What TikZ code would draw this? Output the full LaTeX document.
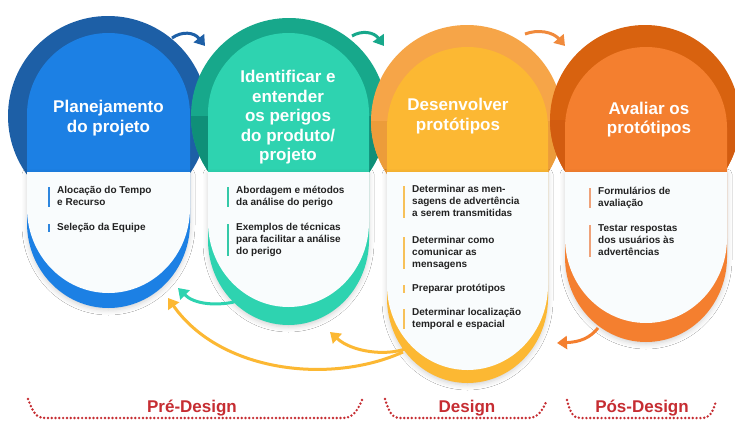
\documentclass[tikz,border=0pt]{standalone}
\usepackage{fontspec}
\setmainfont{Liberation Sans}
\usetikzlibrary{arrows.meta,shadows.blur}
\definecolor{bluedark}{HTML}{1D5FA6}
\definecolor{bluemain}{HTML}{1C80E4}
\definecolor{bluebar}{HTML}{2E86DE}
\definecolor{tealdark}{HTML}{17A88B}
\definecolor{tealshade}{HTML}{0F8F78}
\definecolor{tealmain}{HTML}{2ED3B0}
\definecolor{tealbar}{HTML}{35C9A8}
\definecolor{yelring}{HTML}{F6A548}
\definecolor{yelshade}{HTML}{EC9C3A}
\definecolor{yelmain}{HTML}{FCB833}
\definecolor{yelbar}{HTML}{F7C159}
\definecolor{orgdark}{HTML}{D8620F}
\definecolor{orgshade}{HTML}{D25C10}
\definecolor{orgmain}{HTML}{F47F2F}
\definecolor{orgbar}{HTML}{EFA27A}
\definecolor{orgarrow}{HTML}{F08A3C}
\definecolor{bodywhite}{HTML}{F9FCFD}
\definecolor{txt}{HTML}{222222}
\definecolor{redlab}{HTML}{C62D32}
\tikzset{
  ttl/.style={font=\bfseries\fontsize{17}{19.5}\selectfont, text=white, align=center, inner sep=0pt},
  itm/.style={font=\bfseries\fontsize{10}{12}\selectfont, text=txt, align=left, anchor=north west, inner sep=0pt},
  arr/.style={line width=3pt, -{Triangle[length=10pt,width=13pt]}},
  brk/.style={draw=redlab, line width=2.7pt, dash pattern=on 0pt off 3.8pt, line cap=round},
  phase/.style={font=\bfseries\fontsize{17}{20}\selectfont, text=redlab, inner sep=0pt},
  bar/.style={line width=2.2pt},
  shd/.style={blur shadow={shadow xshift=0pt, shadow yshift=-2pt, shadow blur radius=5pt, shadow opacity=18}}
}
\begin{document}
\begin{tikzpicture}[x=1pt,y=-1pt]
\useasboundingbox[fill=white] (0,0) rectangle (735,423);

% ---------- Stage 1 ----------
\fill[bluedark] (108,116) circle[radius=100pt];
\fill[bluemain] (27,172) -- (27,114.5) arc[start angle=180,end angle=0,radius=81.5pt] -- (190,172) -- cycle;
\fill[bluemain,shd] (27,172) -- (27,223) arc[start angle=180,end angle=360,x radius=81.5pt,y radius=85pt] -- (190,172) -- cycle;
\fill[bodywhite] (27,172) -- (27,208) arc[start angle=180,end angle=360,x radius=81.5pt,y radius=85pt] -- (190,172) -- cycle;
\node[ttl] (t1) at (108.5,118.5) {\strut Planejamento\\\strut do projeto};

% ---------- Stage 2 ----------
\fill[tealdark] (289,116) circle[radius=98pt];
\fill[tealshade] (191,116) arc[start angle=180,end angle=360,radius=98pt] -- cycle;
\fill[tealmain] (208,172) -- (208,113.5) arc[start angle=180,end angle=0,radius=80.5pt] -- (369,172) -- cycle;
\fill[tealmain,shd] (208,172) -- (208,240) arc[start angle=180,end angle=360,x radius=80.5pt,y radius=85pt] -- (369,172) -- cycle;
\fill[bodywhite] (208,172) -- (208,222) arc[start angle=180,end angle=360,x radius=80.5pt,y radius=85pt] -- (369,172) -- cycle;
\node[ttl] (t2) at (288,118) {\strut Identificar e\\\strut entender\\\strut os perigos\\\strut do produto/\\\strut projeto};

% ---------- Stage 3 ----------
\fill[yelring] (467,121) circle[radius=96pt];
\fill[yelshade] (371,121) arc[start angle=180,end angle=360,radius=96pt] -- cycle;
\fill[yelmain] (387,172) -- (387,127.5) arc[start angle=180,end angle=0,radius=80.5pt] -- (548,172) -- cycle;
\fill[yelmain,shd] (387,172) -- (387,298) arc[start angle=180,end angle=360,x radius=80.5pt,y radius=85pt] -- (548,172) -- cycle;
\fill[bodywhite] (387,172) -- (387,285) arc[start angle=180,end angle=360,x radius=80.5pt,y radius=85pt] -- (548,172) -- cycle;
\node[ttl] (t3) at (458,116.5) {\strut Desenvolver\\\strut protótipos};

% ---------- Stage 4 ----------
\fill[orgdark] (645,120) circle[radius=95pt];
\fill[orgshade] (550,120) arc[start angle=180,end angle=360,radius=95pt] -- cycle;
\fill[orgmain] (565,172) -- (565,128) arc[start angle=180,end angle=0,radius=81pt] -- (727,172) -- cycle;
\fill[orgmain,shd] (565,172) -- (565,257) arc[start angle=180,end angle=360,x radius=81pt,y radius=85pt] -- (727,172) -- cycle;
\fill[bodywhite] (565,172) -- (565,238) arc[start angle=180,end angle=360,x radius=81pt,y radius=85pt] -- (727,172) -- cycle;
\node[ttl] (t4) at (649,120) {\strut Avaliar os\\\strut protótipos};

% ---------- Items ----------
\node[itm] (i11) at (57,185) {\strut Alocação do Tempo\\\strut e Recurso};
\node[itm] (i12) at (57,222) {\strut Seleção da Equipe};
\node[itm] (i21) at (236,185) {\strut Abordagem e métodos\\\strut da análise do perigo};
\node[itm] (i22) at (236,222) {\strut Exemplos de técnicas\\\strut para facilitar a análise\\\strut do perigo};
\node[itm] (i31) at (412,184) {\strut Determinar as men-\\\strut sagens de advertência\\\strut a serem transmitidas};
\node[itm] (i32) at (412,235) {\strut Determinar como\\\strut comunicar as\\\strut mensagens};
\node[itm] (i33) at (412,283) {\strut Preparar protótipos};
\node[itm] (i34) at (412,307) {\strut Determinar localização\\\strut temporal e espacial};
\node[itm] (i41) at (598,186) {\strut Formulários de\\\strut avaliação};
\node[itm] (i42) at (598,223) {\strut Testar respostas\\\strut dos usuários às\\\strut advertências};

\foreach \n/\c in {i11/bluebar,i12/bluebar,i21/tealbar,i22/tealbar,i31/yelbar,i32/yelbar,i33/yelbar,i34/yelbar,i41/orgbar,i42/orgbar}{
  \draw[bar,\c] ([xshift=-8pt,yshift=-2pt]\n.north west) -- ([xshift=-8pt,yshift=2pt]\n.south west);
}

% ---------- Top arrows ----------
\coordinate (a1s) at (172,38);
\coordinate (a1e) at (205,46);
\coordinate (a2s) at (352,36);
\coordinate (a2e) at (384,46);
\coordinate (a3s) at (525,34);
\coordinate (a3e) at (565,46);
\draw[arr,bluedark] (a1s) .. controls (182,31) and (194,32) .. (a1e);
\draw[arr,tealdark] (a2s) .. controls (362,30) and (374,32) .. (a2e);
\draw[arr,orgarrow] (a3s) .. controls (538,29) and (553,32) .. (a3e);

% ---------- Bottom arrows ----------
\coordinate (b1s) at (234,302);
\coordinate (b1e) at (178,288);
\coordinate (b2s) at (405,349);
\coordinate (b2e) at (330,332);
\coordinate (b3s) at (403,352);
\coordinate (b3e) at (168,298);
\coordinate (b4s) at (598,328);
\coordinate (b4e) at (557,343);
\draw[arr,tealmain] (b1s) .. controls (215,306) and (194,304) .. (b1e);
\draw[arr,yelmain] (b2s) .. controls (385,356) and (352,352) .. (b2e);
\draw[arr,yelmain] (b3s) .. controls (330,385) and (220,372) .. (b3e);
\draw[arr,orgmain] (b4s) .. controls (590,338) and (580,342) .. (b4e);

% ---------- Phase brackets ----------
\draw[brk] (28,399) .. controls (33,412) and (36,418) .. (45,418) -- (343,418) .. controls (352,418) and (357,412) .. (362,400);
\draw[brk] (385,399) .. controls (389,412) and (392,418) .. (400,418) -- (528,418) .. controls (537,418) and (542,412) .. (547,400);
\draw[brk] (567,400) .. controls (570,412) and (573,418) .. (580,418) -- (702,418) .. controls (710,418) and (713,412) .. (716,401);
\node[phase] (p1) at (192,408) {Pré-Design};
\node[phase] (p2) at (467,408) {Design};
\node[phase] (p3) at (642,408) {Pós-Design};
\end{tikzpicture}
\end{document}
